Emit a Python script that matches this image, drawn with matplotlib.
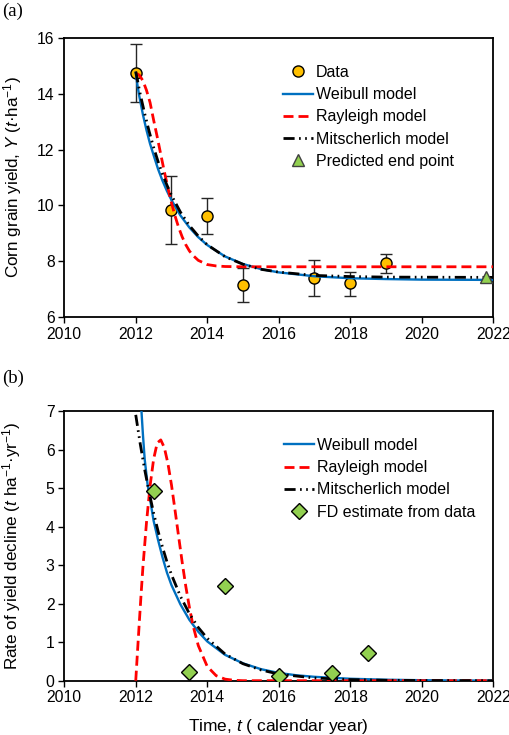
import matplotlib
matplotlib.use("Agg")
import matplotlib.pyplot as plt

plt.rcParams['font.family'] = ['Liberation Sans', 'DejaVu Sans']
plt.rcParams['mathtext.fontset'] = 'custom'
plt.rcParams['mathtext.rm'] = 'Liberation Sans'
plt.rcParams['mathtext.it'] = 'Liberation Sans:italic'

# ---- panel (a): yield data ----
years = [2012, 2013, 2014, 2015, 2017, 2018, 2019]
yield_mean = [14.75, 9.85, 9.62, 7.15, 7.40, 7.22, 7.93]
yield_lo = [13.72, 8.60, 8.96, 6.55, 6.75, 6.77, 7.57]
yield_hi = [15.80, 11.07, 10.26, 7.74, 8.03, 7.63, 8.27]
end_year = [2021.8]
end_yield = [7.42]

# model curves
wb_t = [2012.0, 2012.05, 2012.1, 2012.2, 2012.3, 2012.4, 2012.5, 2012.625, 2012.75,
        2012.875, 2013.0, 2013.25, 2013.5, 2013.75, 2014.0, 2014.5, 2015.0, 2015.5,
        2016.0, 2017.0, 2018.0, 2019.0, 2020.0, 2022.0]
wb_y = [14.75, 14.29, 13.91, 13.26, 12.70, 12.21, 11.80, 11.30, 10.88,
        10.51, 10.19, 9.64, 9.21, 8.86, 8.58, 8.17, 7.90, 7.72,
        7.60, 7.46, 7.39, 7.36, 7.34, 7.33]

ry_t = [2012.0, 2012.1, 2012.2, 2012.3, 2012.4, 2012.5, 2012.6, 2012.7, 2012.8,
        2012.9, 2013.0, 2013.1, 2013.2, 2013.3, 2013.4, 2013.5, 2013.6, 2013.75,
        2014.0, 2014.25, 2014.5, 2015.0, 2022.0]
ry_y = [14.74, 14.67, 14.47, 14.13, 13.69, 13.06, 12.46, 11.83, 11.21,
        10.63, 10.09, 9.62, 9.21, 8.87, 8.59, 8.37, 8.21, 8.03,
        7.88, 7.83, 7.81, 7.80, 7.80]

mi_t = [2012.0, 2012.125, 2012.25, 2012.375, 2012.5, 2012.625, 2012.75, 2012.875,
        2013.0, 2013.25, 2013.5, 2013.75, 2014.0, 2014.5, 2015.0, 2015.5, 2016.0,
        2017.0, 2018.0, 2019.0, 2022.0]
mi_y = [14.80, 13.99, 13.29, 12.65, 12.08, 11.57, 11.12, 10.72,
        10.36, 9.76, 9.28, 8.90, 8.59, 8.16, 7.89, 7.71, 7.61,
        7.49, 7.45, 7.43, 7.42]

# ---- panel (b): rate of yield decline ----
fd_t = [2012.5, 2013.5, 2014.5, 2016.0, 2017.5, 2018.5]
fd_rate = [4.93, 0.22, 2.47, 0.13, 0.19, 0.73]

wbr_t = [2012.1, 2012.16, 2012.2, 2012.25, 2012.33, 2012.42, 2012.5, 2012.625, 2012.75,
         2012.875, 2013.0, 2013.25, 2013.5, 2013.75, 2014.0, 2014.5, 2015.0, 2015.5,
         2016.0, 2016.5, 2017.0, 2018.0, 2019.0, 2020.0, 2021.0, 2022.0]
wbr_r = [8.5, 7.0, 6.4, 5.75, 5.1, 4.6, 4.15, 3.65, 3.2,
         2.8, 2.48, 1.98, 1.58, 1.27, 1.02, 0.67, 0.45, 0.30,
         0.20, 0.14, 0.10, 0.05, 0.025, 0.012, 0.005, 0.002]

ryr_t = [2012.0, 2012.05, 2012.1, 2012.15, 2012.2, 2012.3, 2012.4, 2012.5, 2012.6,
         2012.7, 2012.8, 2012.9, 2013.0, 2013.1, 2013.2, 2013.3, 2013.4, 2013.5,
         2013.6, 2013.75, 2014.0, 2014.25, 2014.5, 2014.75, 2015.0, 2022.0]
ryr_r = [0.0, 0.77, 1.52, 2.25, 2.94, 4.1, 5.05, 5.75, 6.17,
         6.25, 6.05, 5.64, 5.08, 4.42, 3.74, 3.07, 2.45, 1.91,
         1.44, 0.91, 0.37, 0.13, 0.04, 0.01, 0.0, 0.0]

mir_t = [2012.0, 2012.125, 2012.25, 2012.375, 2012.5, 2012.625, 2012.75, 2012.875,
         2013.0, 2013.25, 2013.5, 2013.75, 2014.0, 2014.5, 2015.0, 2015.5, 2016.0,
         2017.0, 2018.0, 2019.0, 2020.0, 2022.0]
mir_r = [6.9, 6.15, 5.48, 4.89, 4.35, 3.88, 3.46, 3.08,
         2.75, 2.19, 1.74, 1.38, 1.10, 0.69, 0.44, 0.28, 0.17,
         0.07, 0.028, 0.011, 0.004, 0.0]

BLUE = '#0070C0'
RED = '#FF0000'
ORANGE = '#FFC000'
GREEN = '#92D050'
mi_dash = (4, 1.6, 0.6, 1.6, 0.6, 1.6)
ry_dash = (3.6, 1.8)

fig = plt.figure(figsize=(5.1, 7.35), dpi=100)
ax1 = fig.add_axes([0.126, 0.5687, 0.841, 0.3796])
ax2 = fig.add_axes([0.126, 0.0739, 0.841, 0.3669])


def style_axes(ax):
    ax.set_xlim(2010, 2022)
    ax.set_xticks(range(2010, 2023, 2))
    for s in ax.spines.values():
        s.set_linewidth(1.3)
        s.set_color('black')
    ax.tick_params(direction='out', length=4, width=1.0, labelsize=11.3, pad=3)


# (a)
ax1.errorbar(years, yield_mean, yerr=[[m - l for m, l in zip(yield_mean, yield_lo)],
                                      [h - m for m, h in zip(yield_mean, yield_hi)]],
             fmt='none', ecolor='#262626', elinewidth=1.0, capsize=4, capthick=1.0, zorder=2)
ax1.plot(years, yield_mean, 'o', ms=8, mfc=ORANGE, mec='black', mew=1.0, zorder=3,
         label='Data')
ax1.plot(wb_t, wb_y, color=BLUE, lw=1.7, zorder=4, label='Weibull model')
ax1.plot(ry_t, ry_y, color=RED, lw=2.0, dashes=ry_dash, zorder=4, label='Rayleigh model')
ax1.plot(mi_t, mi_y, color='black', lw=2.0, dashes=mi_dash, zorder=4,
         label='Mitscherlich model')
ax1.plot(end_year, end_yield, '^', ms=8.5, mfc=GREEN, mec='#404040', mew=1.0, zorder=5,
         clip_on=False, label='Predicted end point')
ax1.set_ylim(6, 16)
ax1.set_yticks(range(6, 17, 2))
style_axes(ax1)
ax1.set_ylabel('Corn grain yield, $Y$ ($t$\u00b7ha$^{-1}$)', fontsize=12.3, labelpad=9)
ax1.legend(loc='upper left', bbox_to_anchor=(283 / 510, 1 - 65 / 735),
           bbox_transform=fig.transFigure, frameon=False, fontsize=11.5,
           handlelength=1.9, handletextpad=0.15, labelspacing=0.45, borderpad=0,
           borderaxespad=0)

# (b)
ax2.plot(wbr_t, wbr_r, color=BLUE, lw=1.7, zorder=3, label='Weibull model')
ax2.plot(ryr_t, ryr_r, color=RED, lw=2.0, dashes=ry_dash, zorder=3, label='Rayleigh model')
ax2.plot(mir_t, mir_r, color='black', lw=2.0, dashes=mi_dash, zorder=3,
         label='Mitscherlich model')
ax2.plot(fd_t, fd_rate, 'D', ms=7.8, mfc=GREEN, mec='black', mew=1.0, zorder=5,
         label='FD estimate from data')
ax2.set_ylim(0, 7)
ax2.set_yticks(range(0, 8))
style_axes(ax2)
ax2.set_ylabel('Rate of yield decline ($t$ ha$^{-1}$\u00b7yr$^{-1}$)', fontsize=12.3,
               labelpad=16)
ax2.set_xlabel('Time, $t$ ( calendar year)', fontsize=12.5, labelpad=8)
ax2.legend(loc='upper left', bbox_to_anchor=(284 / 510, 1 - 438 / 735),
           bbox_transform=fig.transFigure, frameon=False, fontsize=11.5,
           handlelength=1.9, handletextpad=0.15, labelspacing=0.45, borderpad=0,
           borderaxespad=0)

fig.text(0.004, 0.996, '(a)', family='Liberation Serif', fontsize=13.5, va='top', ha='left')
fig.text(0.004, 0.497, '(b)', family='Liberation Serif', fontsize=13.5, va='top', ha='left')

fig.savefig('out.png', dpi=100)
